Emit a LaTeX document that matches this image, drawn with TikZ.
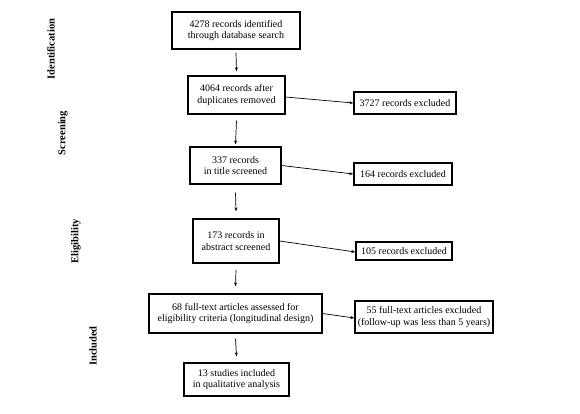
\documentclass[tikz,border=0pt]{standalone}
\usepackage{fontspec}
\setmainfont{Liberation Serif}
\usetikzlibrary{arrows.meta}
\begin{document}
\begin{tikzpicture}[x=1pt,y=-1pt,
  box/.style={draw,line width=1.3pt,align=center,inner sep=1pt,font=\fontsize{10}{11.5}\selectfont},
  arr/.style={line width=0.7pt,-{Stealth[length=4pt,width=3pt]}},
  phase/.style={rotate=90,font=\bfseries\fontsize{10.5}{12}\selectfont}]
\useasboundingbox (0,0) rectangle (580,413);
\node[box,minimum width=128pt,minimum height=37pt] (b1) at (236,30.5) {4278 records identified\\through database search};
\node[box,minimum width=97pt,minimum height=38pt] (b2) at (236.5,95) {4064 records after\\duplicates removed};
\node[box,minimum width=102pt,minimum height=22pt] (e1) at (405,103) {3727 records excluded};
\node[box,minimum width=91pt,minimum height=37pt] (b3) at (235.5,165.5) {337 records\\in title screened};
\node[box,minimum width=98pt,minimum height=22pt] (e2) at (403,174) {164 records excluded};
\node[box,minimum width=86pt,minimum height=44pt] (b4) at (236,241) {173 records in\\abstract screened};
\node[box,minimum width=96pt,minimum height=18pt] (e3) at (404,251) {105 records excluded};
\node[box,minimum width=173pt,minimum height=39pt] (b5) at (235.5,313.5) {68 full-text articles assessed for\\eligibility criteria (longitudinal design)};
\node[box,minimum width=138pt,minimum height=32pt] (e4) at (424,317) {55 full-text articles excluded\\(follow-up was less than 5 years)};
\node[box,minimum width=105pt,minimum height=33pt] (b6) at (236.5,379.5) {13 studies included\\in qualitative analysis};
\node[phase] (p1) at (51,49) {Identification};
\node[phase] (p2) at (63,133) {Screening};
\node[phase] (p3) at (76,241) {Eligibility};
\node[phase] (p4) at (93,346) {Included};
\draw[arr] ([yshift=-3pt]b1.south) -- ([yshift=4pt]b2.north);
\draw[arr] ([yshift=-6pt]b2.south) -- ([yshift=2pt]b3.north);
\draw[arr] ([yshift=-8pt]b3.south) -- ([yshift=7pt]b4.north);
\draw[arr] ([yshift=-6pt]b4.south) -- ([yshift=7pt]b5.north);
\draw[arr] ([yshift=-5pt]b5.south) -- ([yshift=6pt]b6.north);
\draw[arr] ([yshift=-2pt]b2.east) -- (e1.west);
\draw[arr] (b3.east) -- (e2.west);
\draw[arr] (b4.east) -- ([yshift=-1pt]e3.west);
\draw[arr] (b5.east) -- ([yshift=-1pt]e4.west);
\end{tikzpicture}
\end{document}
